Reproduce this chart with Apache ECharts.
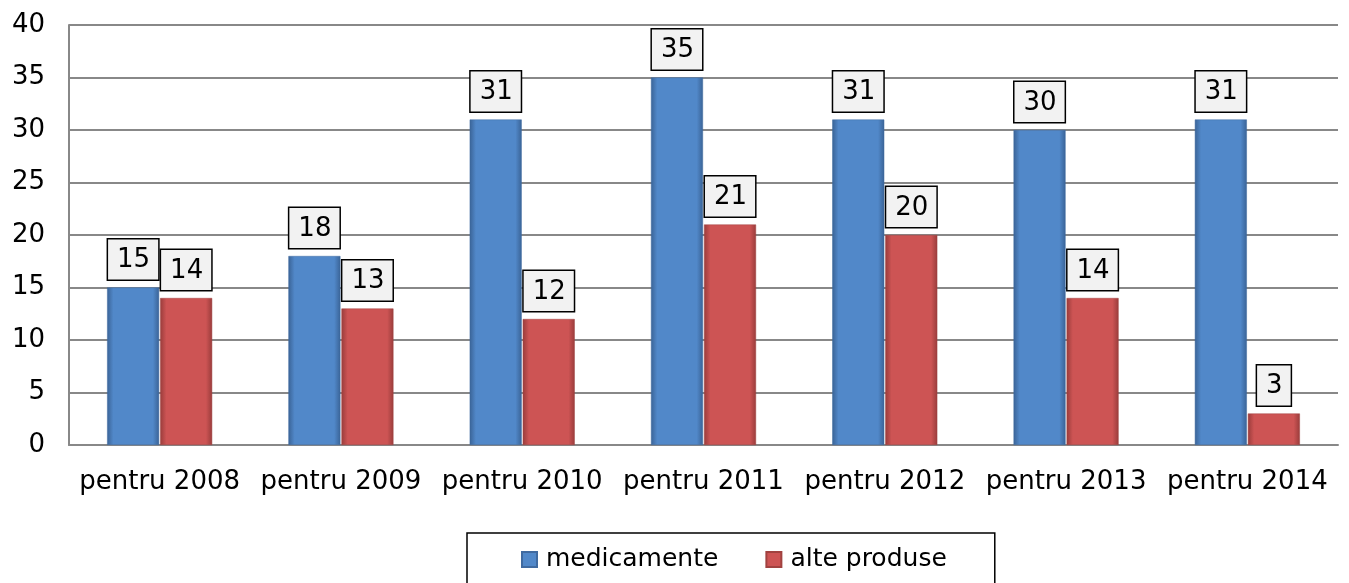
<!DOCTYPE html>
<html lang="ro">
<head>
    <meta charset="UTF-8">
    <title>medicamente / alte produse</title>
    <script src="https://cdn.jsdelivr.net/npm/echarts@6/dist/echarts.min.js"></script>
</head>
<body style="margin:0;background:#fff;">
<div id="main" style="width:1349px;height:583px;"></div>
<script>
    // date
    var categorii = ['pentru 2008', 'pentru 2009', 'pentru 2010', 'pentru 2011', 'pentru 2012', 'pentru 2013', 'pentru 2014'];
    var medicamente = [15, 18, 31, 35, 31, 30, 31];
    var alteProduse = [14, 13, 12, 21, 20, 14, 3];
    var numeSerii = ['medicamente', 'alte produse'];

    var font = 'DejaVu Sans, Verdana, sans-serif';

    // bara cu margini mai inchise (efect de tesitura)
    function bevel(mid, edge) {
        return new echarts.graphic.LinearGradient(0, 0, 1, 0, [
            {offset: 0, color: edge},
            {offset: 0.12, color: mid},
            {offset: 0.88, color: mid},
            {offset: 1, color: edge}
        ]);
    }

    var eticheta = {
        show: true,
        position: 'top',
        distance: 8,
        color: '#000',
        fontFamily: font,
        fontSize: 26,
        lineHeight: 30,
        backgroundColor: '#f2f2f2',
        borderColor: '#000',
        borderWidth: 1.5,
        padding: [6, 8, 4, 9]
    };

    var myChart = echarts.init(document.getElementById('main'));
    var option = {
        animation: false,
        grid: {left: 69, right: 11, top: 25, bottom: 138},
        legend: {
            data: numeSerii,
            left: 467,
            top: 533,
            padding: [14, 48, 30, 54],
            borderColor: '#000',
            borderWidth: 1.5,
            itemWidth: 15,
            itemHeight: 15,
            itemGap: 47,
            icon: 'rect',
            textStyle: {fontFamily: font, fontSize: 25, color: '#000', padding: [0, 0, 0, 4]}
        },
        xAxis: {
            type: 'category',
            data: categorii,
            axisLine: {lineStyle: {color: '#888', width: 2}},
            axisTick: {show: false},
            axisLabel: {fontFamily: font, fontSize: 26, color: '#000', margin: 24, interval: 0}
        },
        yAxis: {
            type: 'value',
            min: 0,
            max: 40,
            interval: 5,
            axisLine: {show: true, lineStyle: {color: '#888', width: 2}},
            axisTick: {show: false},
            splitLine: {lineStyle: {color: '#888', width: 2}},
            axisLabel: {fontFamily: font, fontSize: 26, color: '#000', margin: 24}
        },
        series: [
            {
                name: numeSerii[0],
                type: 'bar',
                data: medicamente,
                barWidth: 52,
                barGap: '2%',
                itemStyle: {color: bevel('#5188c9', '#3a6396'), borderColor: '#3f6aa0', borderWidth: 0.5},
                label: eticheta
            },
            {
                name: numeSerii[1],
                type: 'bar',
                data: alteProduse,
                barWidth: 52,
                itemStyle: {color: bevel('#cd5454', '#993c3b'), borderColor: '#a14240', borderWidth: 0.5},
                label: eticheta
            }
        ]
    };
    myChart.setOption(option);
</script>
</body>
</html>
